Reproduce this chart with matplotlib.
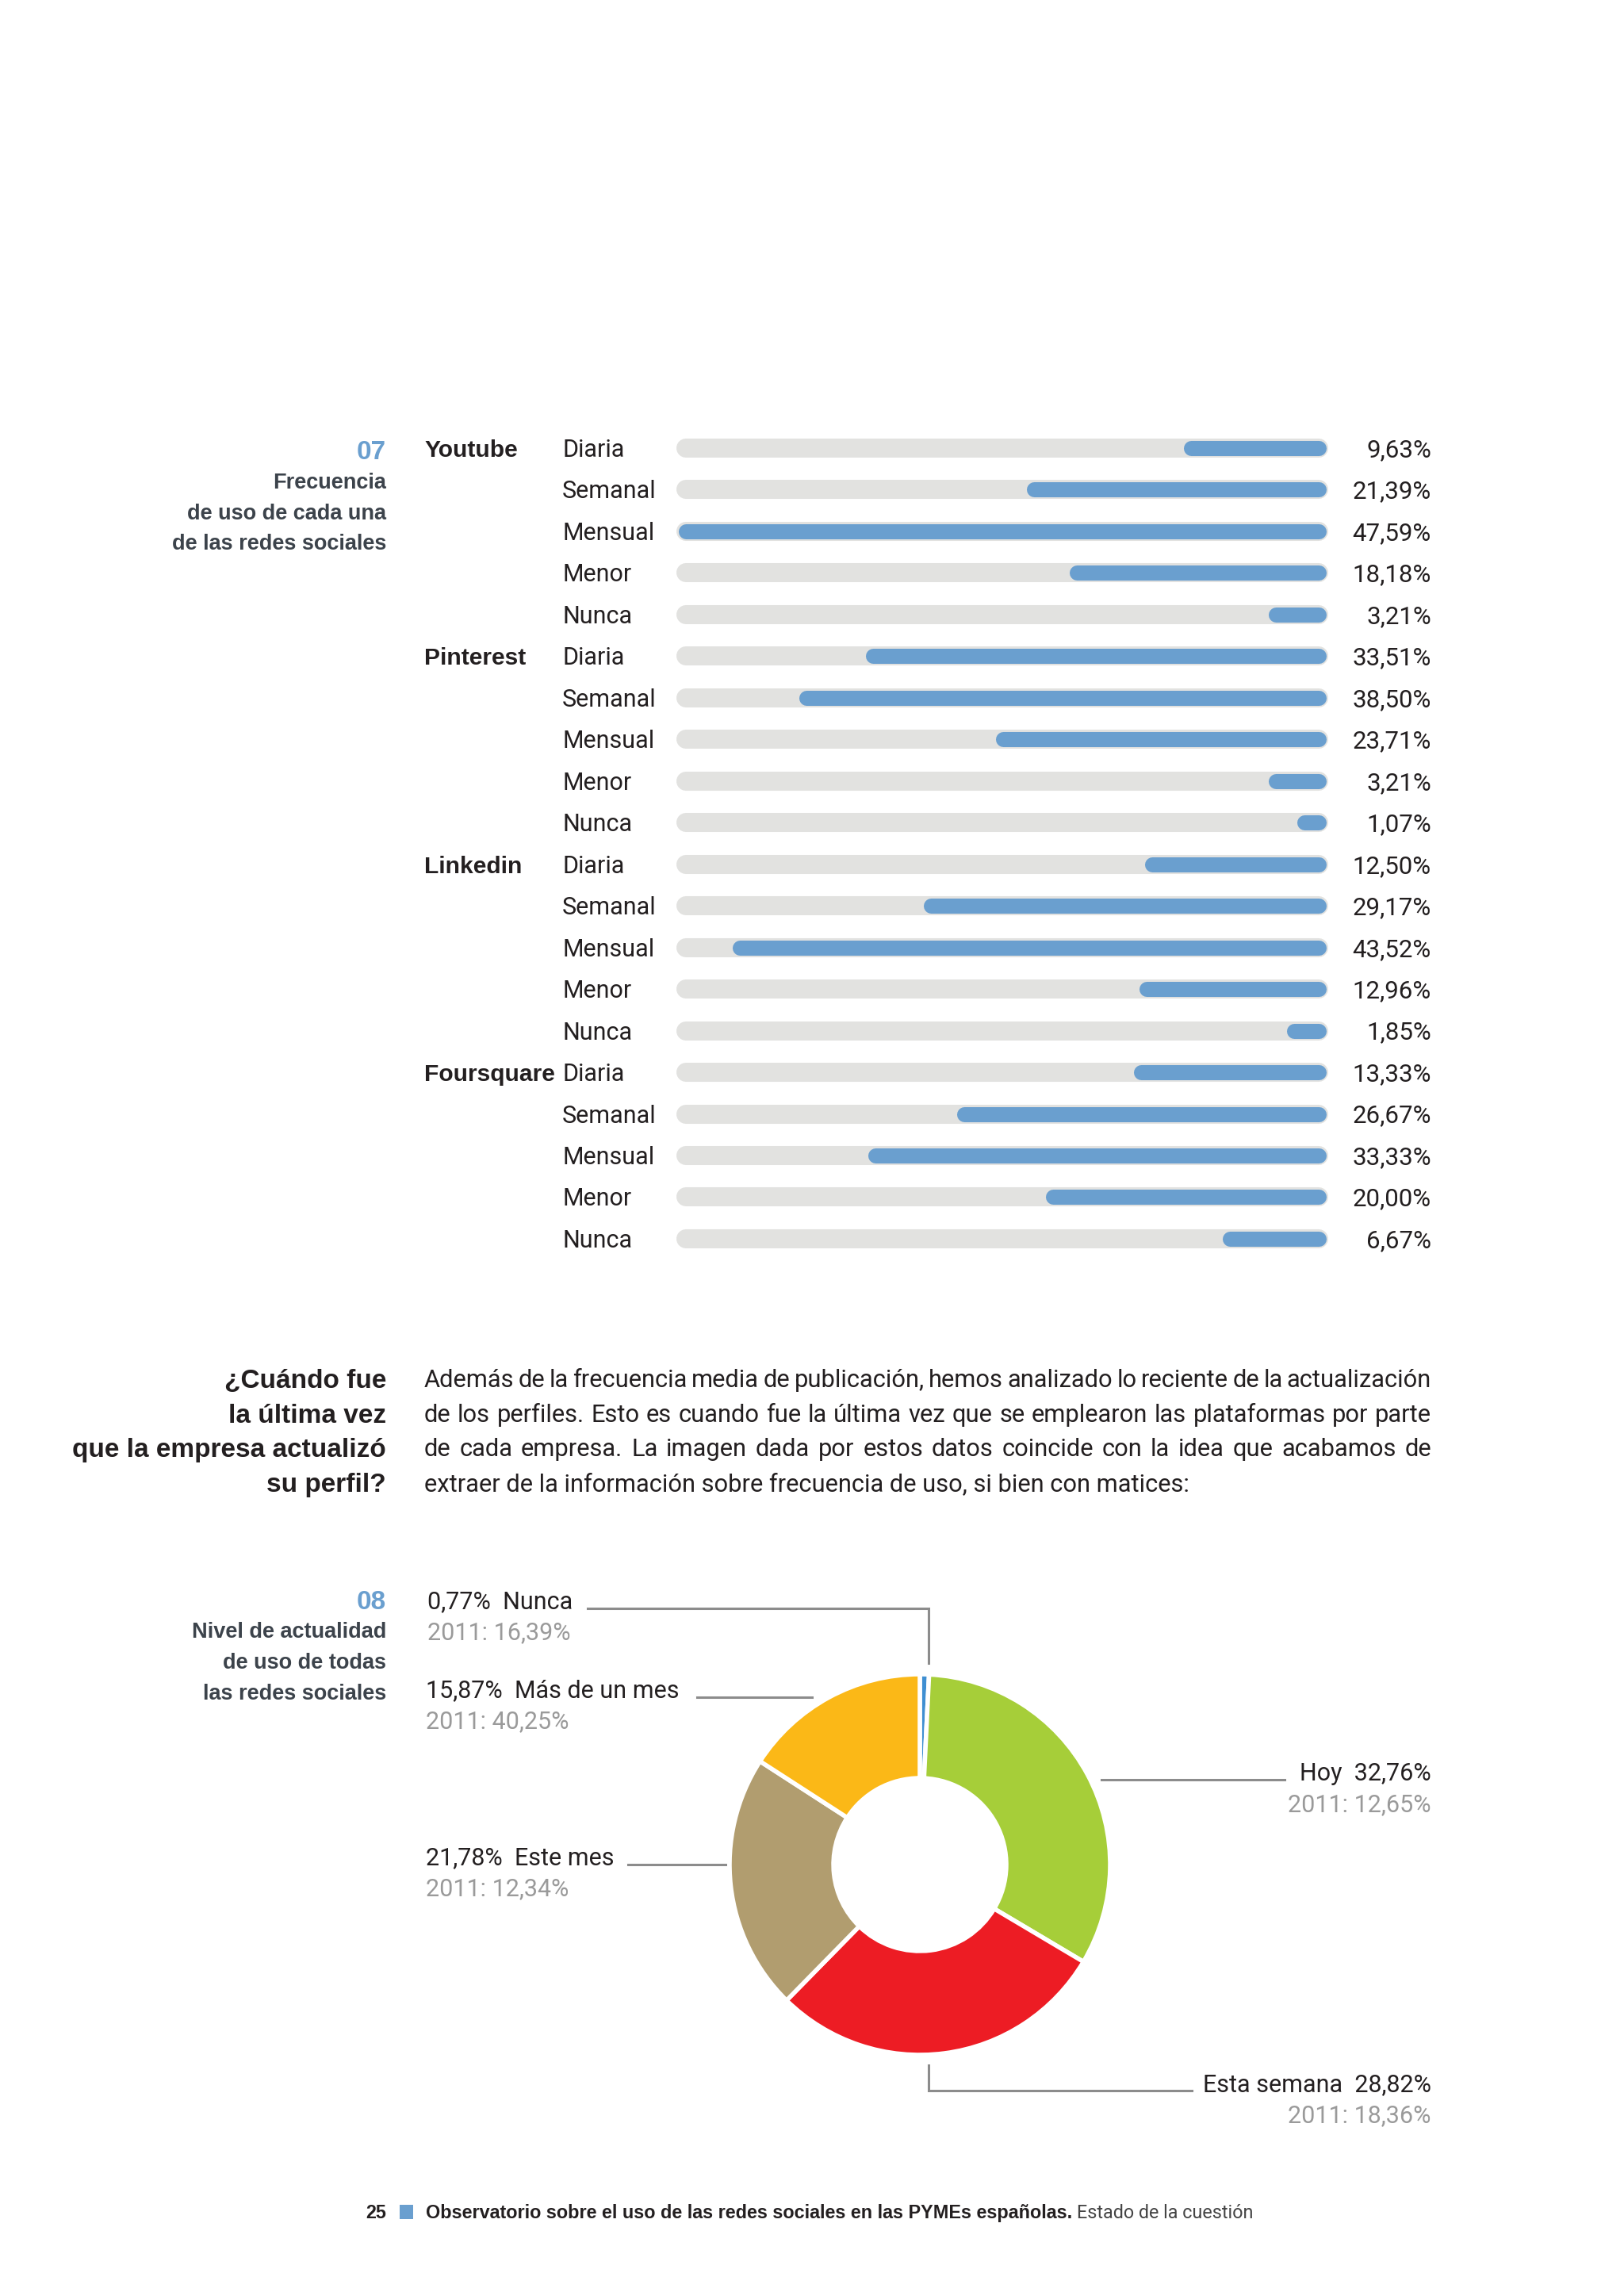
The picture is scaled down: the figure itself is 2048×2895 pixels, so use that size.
import numpy as np
import matplotlib
matplotlib.use("Agg")
import matplotlib.pyplot as plt
from matplotlib import transforms
from matplotlib.patches import Rectangle

W, H, DPI = 2048, 2895, 100

# chart 07: frecuencia de uso por red social (%)
platforms = ["Youtube", "Pinterest", "Linkedin", "Foursquare"]
frequencies = ["Diaria", "Semanal", "Mensual", "Menor", "Nunca"]
youtube = [9.63, 21.39, 47.59, 18.18, 3.21]
pinterest = [33.51, 38.50, 23.71, 3.21, 1.07]
linkedin = [12.50, 29.17, 43.52, 12.96, 1.85]
foursquare = [13.33, 26.67, 33.33, 20.00, 6.67]

# chart 08: nivel de actualidad (%), clockwise from the top
donut_labels = ["Nunca", "Hoy", "Esta semana", "Este mes", "Más de un mes"]
donut_values = [0.77, 32.76, 28.82, 21.78, 15.87]
donut_2011 = [16.39, 12.65, 18.36, 12.34, 40.25]

paragraph = [
    "Además de la frecuencia media de publicación, hemos analizado lo reciente de la actualización",
    "de los perfiles. Esto es cuando fue la última vez que se emplearon las plataformas por parte",
    "de cada empresa. La imagen dada por estos datos coincide con la idea que acabamos de",
    "extraer de la información sobre frecuencia de uso, si bien con matices:",
]

BLUE = "#6a9fcf"
TRACK = "#e2e2e0"
INK = "#231f20"
HEAD = "#3c434b"
GREY = "#9a9a9a"
LINE = "#8c8c8c"
donut_colors = ["#3f8fd2", "#a6ce39", "#ed1c24", "#b19d6f", "#fbb817"]

LIGHT = dict(family=["Roboto", "Liberation Sans"], weight="normal")
BOLD = dict(family=["Liberation Sans", "DejaVu Sans"], weight="bold")
COND = dict(family=["Liberation Sans Narrow", "Liberation Sans"], weight="bold")


def fmt(v):
    return f"{v:.2f}".replace(".", ",") + "%"


def px(pt):
    return pt * DPI / 72


def box(x0, y0, x1, y1):
    # pixel box (y down) -> figure fraction
    return [x0 / W, 1 - y1 / H, (x1 - x0) / W, (y1 - y0) / H]


fig = plt.figure(figsize=(W / DPI, H / DPI), dpi=DPI)
fig.patch.set_facecolor("white")
page = fig.add_axes([0, 0, 1, 1])
page.set_xlim(0, W)
page.set_ylim(H, 0)
page.axis("off")
renderer = fig.canvas.get_renderer()


def put(x, yc, s, size, font, color=INK, ha="left"):
    return page.text(x, yc + 0.36 * px(size), s, fontsize=size, color=color,
                     ha=ha, va="baseline", **font)


# ---- chart 07 ----
put(487, 567, "07", 24, COND, BLUE, ha="right")
for yc, s in zip([606, 645, 683], ["Frecuencia", "de uso de cada una", "de las redes sociales"]):
    put(487, yc, s, 19.5, COND, HEAD, ha="right")

vals = np.concatenate([youtube, pinterest, linkedin, foursquare])
rows = np.arange(len(vals))
cats = frequencies * len(platforms)
M = vals.max()
row0, pitch = 565, 52.47
bar_ax = fig.add_axes(box(865, row0 - pitch / 2, 1663, row0 + (len(vals) - 0.5) * pitch))
bar_ax.set_xlim(0, M)
bar_ax.set_ylim(len(vals) - 0.5, -0.5)
bar_ax.axis("off")
bar_ax.hlines(rows, 0, M, colors=TRACK, lw=17.3, capstyle="round", clip_on=False)
bar_ax.hlines(rows, M - vals, M, colors=BLUE, lw=13.7, capstyle="round", clip_on=False)

tr = transforms.blended_transform_factory(page.transData, bar_ax.transData)
sz = 22
tr_txt = transforms.offset_copy(tr, fig=fig, x=0, y=-0.36 * px(sz), units="dots")
for i, (c, v) in enumerate(zip(cats, vals)):
    bar_ax.text(709, i, c, transform=tr_txt, fontsize=sz, color=INK, va="baseline", **LIGHT)
    bar_ax.text(1805, i, fmt(v), transform=tr_txt, fontsize=sz + 0.5, color=INK,
                ha="right", va="baseline", **LIGHT)
for k, p in enumerate(platforms):
    bar_ax.text(535, k * len(frequencies), p, transform=tr_txt, fontsize=21.6,
                color=INK, va="baseline", **BOLD)

# ---- question + paragraph ----
para_y = [1738, 1782, 1825, 1869]
for yc, s in zip(para_y, ["¿Cuándo fue", "la última vez", "que la empresa actualizó", "su perfil?"]):
    put(487, yc, s, 24, BOLD, INK, ha="right")

# size the paragraph so the last (unjustified) line matches the reference width
probe = page.text(0, 0, paragraph[-1], fontsize=20, **LIGHT)
psize = 20 * 962 / probe.get_window_extent(renderer).width
probe.remove()
x_left, x_right = 535, 1805
for k, (yc, line) in enumerate(zip(para_y, paragraph)):
    if k == len(paragraph) - 1:
        put(x_left, yc, line, psize, LIGHT)
        continue
    words = line.split(" ")
    items = [put(0, yc, w, psize, LIGHT) for w in words]
    widths = [t.get_window_extent(renderer).width for t in items]
    gap = (x_right - x_left - sum(widths)) / (len(words) - 1)
    x = x_left
    for t, w in zip(items, widths):
        t.set_x(x)
        x += w + gap

# ---- chart 08 ----
put(487, 2017, "08", 24, COND, BLUE, ha="right")
for yc, s in zip([2055, 2094, 2133], ["Nivel de actualidad", "de uso de todas", "las redes sociales"]):
    put(487, yc, s, 19.5, COND, HEAD, ha="right")

cx, cy, R = 1160, 2351, 240
dax = fig.add_axes(box(cx - R, cy - R, cx + R, cy + R))
wedges, _ = dax.pie(donut_values, colors=donut_colors, startangle=90, counterclock=False,
                    radius=1, wedgeprops=dict(width=0.546, edgecolor="white", linewidth=4))
for w in wedges:
    w.set_clip_on(False)
dax.set_xlim(-1, 1)
dax.set_ylim(-1, 1)
dax.axis("off")

# label layout: (x, caps-centre y, align, leader path)
layout = {
    "Nunca": (539, 2017, "left", [(741, 2028), (1171, 2028), (1171, 2097)]),
    "Más de un mes": (537, 2129, "left", [(879, 2140), (1024, 2140)]),
    "Este mes": (537, 2340, "left", [(792, 2351), (915, 2351)]),
    "Hoy": (1805, 2234, "right", [(1389, 2244), (1620, 2244)]),
    "Esta semana": (1805, 2626, "right", [(1171, 2604), (1171, 2636), (1503, 2636)]),
}
for name, v, old in zip(donut_labels, donut_values, donut_2011):
    x, yc, ha, path = layout[name]
    s = f"{fmt(v)}  {name}" if ha == "left" else f"{name}  {fmt(v)}"
    put(x, yc, s, 22, LIGHT, INK, ha=ha)
    put(x, yc + 39, f"2011: {fmt(old)}", 22, LIGHT, GREY, ha=ha)
    xs, ys = zip(*path)
    page.plot(xs, ys, color=LINE, lw=2.2, solid_joinstyle="miter")

# ---- footer ----
put(487, 2789, "25", 16.8, BOLD, INK, ha="right")
page.add_patch(Rectangle((504, 2780), 17, 18, color=BLUE, lw=0))
t1 = put(537, 2789, "Observatorio sobre el uso de las redes sociales en las PYMEs españolas.", 16.8, BOLD, INK)
w1 = t1.get_window_extent(renderer).width
put(537 + w1 + 6, 2789, "Estado de la cuestión", 16.8, LIGHT, "#444444")

fig.savefig("out.png", dpi=DPI, facecolor="white")
